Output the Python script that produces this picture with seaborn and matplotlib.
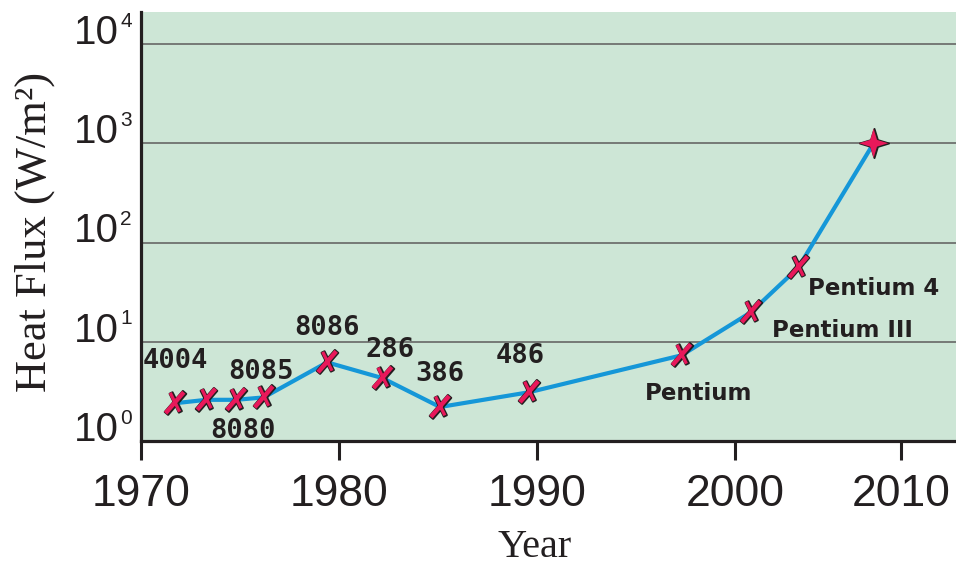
import matplotlib
matplotlib.use("Agg")
import matplotlib.pyplot as plt
from matplotlib.path import Path
import seaborn as sns
import numpy as np
import pandas as pd

# ---------------- data ----------------
years = [1971.7, 1973.3, 1974.8, 1976.2, 1979.4, 1982.2, 1985.1, 1989.6, 1997.3, 2000.8, 2003.2]
heat_flux = [2.4, 2.6, 2.6, 2.75, 6.2, 4.3, 2.2, 3.1, 7.3, 19.8, 56.0]
chip_labels = ["4004", "", "8080", "8085", "8086", "286", "386", "486", "Pentium", "Pentium III", "Pentium 4"]
future_year = [2007.0]
future_flux = [1000.0]

x_tick_values = [1970, 1980, 1990, 2000, 2008.4]
x_tick_labels = ["1970", "1980", "1990", "2000", "2010"]
y_exponents = [0, 1, 2, 3, 4]

# label offsets in pixels (dx, dy to baseline-centre)
label_offsets = [(1, 35), (0, 0), (7, -38), (-3, 18), (0, 27), (8, 21), (0, 26), (-9, 29),
                 (17, -45), (92, -25), (75, -28)]

# ---------------- styling ----------------
BG = "#cde6d6"
LINE = "#1597d8"
MARK = "#e8185a"
INK = "#231f20"
GRID = "#6e716e"


def stroke(p, q, hw):
    p, q = np.array(p, float), np.array(q, float)
    d = q - p
    n = np.array([-d[1], d[0]]) / np.hypot(*d) * hw
    return [p + n, q + n, q - n, p - n, p + n]


def compound(polys):
    verts, codes = [], []
    for poly in polys:
        verts += [tuple(v) for v in poly]
        codes += [Path.MOVETO] + [Path.LINETO] * (len(poly) - 2) + [Path.CLOSEPOLY]
    return Path(verts, codes)


# slanted hand-drawn "X" marker and concave 4-point star marker
x_marker = compound([stroke((-0.78, -0.85), (0.78, 0.95), 0.19),
                     stroke((-0.38, 0.9), (0.42, -0.72), 0.14)])
ang = np.linspace(0, 2 * np.pi, 9)[:-1] + np.pi / 2
rad = np.where(np.arange(8) % 2 == 0, 1.0, 0.33)
star_pts = [(r * np.cos(a), r * np.sin(a)) for r, a in zip(rad, ang)]
star_marker = Path(star_pts + [star_pts[0]], [Path.MOVETO] + [Path.LINETO] * 7 + [Path.CLOSEPOLY])

df = pd.DataFrame({"year": years + future_year, "flux": heat_flux + future_flux})
chips = pd.DataFrame({"year": years, "flux": heat_flux})
fut = pd.DataFrame({"year": future_year, "flux": future_flux})

W, H = 956, 568
fig = plt.figure(figsize=(W / 100, H / 100), dpi=100)
ax = fig.add_axes([141 / W, (H - 441) / H, (W - 141) / W, (441 - 12) / H])
ax.set_facecolor(BG)

ax.set_yscale("log")
ax.set_xlim(1970, 1970 + 815 / 19.8)
ax.set_ylim(1, 10 ** (429 / 99.25))

for e in y_exponents[1:]:
    ax.axhline(10 ** e, color=GRID, lw=1.3, zorder=1)

sns.lineplot(data=df, x="year", y="flux", ax=ax, color=LINE, lw=3.0, sort=False,
             estimator=None, zorder=3)
# outline layer then fill layer
sns.scatterplot(data=chips, x="year", y="flux", ax=ax, marker=x_marker, s=18 ** 2,
                color=INK, edgecolor=INK, linewidth=1.5, zorder=4)
sns.scatterplot(data=chips, x="year", y="flux", ax=ax, marker=x_marker, s=18 ** 2,
                color=MARK, edgecolor="none", linewidth=0, zorder=4.5)
sns.scatterplot(data=fut, x="year", y="flux", ax=ax, marker=star_marker, s=21 ** 2,
                color=INK, edgecolor=INK, linewidth=1.4, zorder=4)
sns.scatterplot(data=fut, x="year", y="flux", ax=ax, marker=star_marker, s=21 ** 2,
                color=MARK, edgecolor="none", linewidth=0, zorder=4.5)

for xv, yv, lab, (dx, dy) in zip(years, heat_flux, chip_labels, label_offsets):
    if not lab:
        continue
    if lab.startswith("Pentium"):
        fp = dict(family="DejaVu Sans", weight="bold", fontsize=16.5)
    else:
        fp = dict(family="DejaVu Sans Mono", weight="bold", fontsize=19.5)
    ax.annotate(lab, xy=(xv, yv), xytext=(dx * 0.72, dy * 0.72), textcoords="offset points",
                ha="center", va="baseline", color=INK, zorder=5, **fp)

# spines
for s in ["top", "right"]:
    ax.spines[s].set_visible(False)
for s in ["left", "bottom"]:
    ax.spines[s].set_color(INK)
    ax.spines[s].set_linewidth(2.3)
    ax.spines[s].set_zorder(6)

ax.set_xticks(x_tick_values, labels=x_tick_labels, fontsize=32, family="Liberation Sans", color=INK)
ax.tick_params(axis="x", length=14, width=2.2, color=INK, pad=10)

ax.set_yticks([10 ** e for e in y_exponents], labels=["10"] * len(y_exponents),
              fontsize=29, family="Liberation Sans", color=INK, va="baseline")
ax.minorticks_off()
ax.tick_params(axis="y", length=0, pad=16)
for e in y_exponents:
    ax.annotate(str(e), xy=(0, 10 ** e), xycoords=ax.get_yaxis_transform(),
                xytext=(-15, 12.5), textcoords="offset points", ha="left", va="baseline",
                fontsize=15, family="Liberation Sans", color=INK)

ax.set_xlabel("Year", fontsize=29, family="Liberation Serif", color=INK, va="baseline")
ax.xaxis.set_label_coords((535 - 141) / 815, (441 - 557) / 429)
ax.set_ylabel("Heat Flux (W/m²)", fontsize=32, family="Liberation Serif", color=INK)
ax.yaxis.set_label_coords(-0.105, (441 - 232) / 429)

fig.savefig("out.png", dpi=100)
